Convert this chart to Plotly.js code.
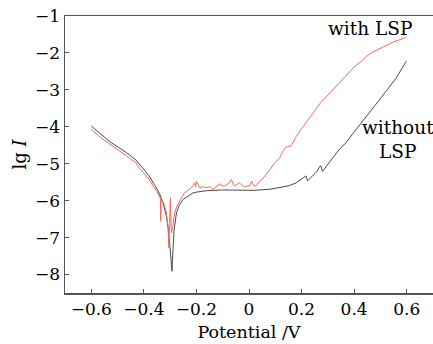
<!DOCTYPE html>
<html>
<head>
<meta charset="utf-8">
<script src="https://cdn.plot.ly/plotly-3.0.1.min.js"></script>
<style>html,body{margin:0;padding:0;background:#fff;}#chart{width:433px;height:344px;}</style>
</head>
<body>
<div id="chart"></div>
<script>
const withoutX = [-0.60,-0.56,-0.53,-0.50,-0.466,-0.43,-0.403,-0.38,-0.352,-0.34,-0.327,-0.314,-0.305,-0.298,-0.293,-0.289,-0.285,-0.276,-0.264,-0.251,-0.23,-0.213,-0.2,-0.162,-0.1,-0.036,0.02,0.08,0.116,0.15,0.179,0.192,0.205,0.217,0.223,0.24,0.26,0.268,0.274,0.279,0.295,0.318,0.345,0.369,0.4,0.432,0.46,0.495,0.53,0.559,0.597,0.6];
const withoutY = [-3.98,-4.21,-4.40,-4.54,-4.70,-4.90,-5.12,-5.33,-5.66,-5.82,-6.06,-6.42,-6.9,-7.4,-7.91,-7.3,-6.8,-6.33,-6.1,-5.97,-5.86,-5.79,-5.77,-5.73,-5.71,-5.71,-5.72,-5.69,-5.64,-5.6,-5.52,-5.45,-5.38,-5.33,-5.46,-5.35,-5.2,-5.08,-5.06,-5.21,-5.05,-4.85,-4.6,-4.43,-4.14,-3.86,-3.6,-3.28,-2.96,-2.69,-2.24,-2.22];
const withX = [-0.60,-0.565,-0.529,-0.50,-0.466,-0.44,-0.428,-0.425,-0.403,-0.38,-0.365,-0.35,-0.34,-0.337,-0.336,-0.334,-0.325,-0.315,-0.308,-0.305,-0.302,-0.299,-0.297,-0.295,-0.29,-0.283,-0.274,-0.264,-0.255,-0.245,-0.238,-0.225,-0.215,-0.207,-0.203,-0.2,-0.195,-0.188,-0.175,-0.162,-0.15,-0.137,-0.125,-0.112,-0.103,-0.093,-0.08,-0.067,-0.06,-0.055,-0.045,-0.036,-0.027,-0.017,-0.005,0.002,0.008,0.012,0.018,0.025,0.033,0.04,0.05,0.065,0.075,0.084,0.095,0.103,0.116,0.13,0.141,0.16,0.179,0.2,0.22,0.242,0.27,0.306,0.34,0.369,0.4,0.432,0.445,0.475,0.508,0.55,0.597];
const withY = [-4.07,-4.29,-4.47,-4.61,-4.79,-4.93,-4.98,-5.05,-5.24,-5.42,-5.61,-5.75,-5.90,-5.95,-6.56,-5.97,-6.05,-6.3,-6.7,-7.27,-6.6,-5.92,-6.5,-6.87,-6.7,-6.33,-6.15,-6.0,-5.9,-5.78,-5.75,-5.68,-5.62,-5.52,-5.62,-5.48,-5.55,-5.65,-5.62,-5.65,-5.62,-5.69,-5.62,-5.54,-5.6,-5.6,-5.55,-5.43,-5.55,-5.6,-5.56,-5.52,-5.58,-5.63,-5.6,-5.61,-5.5,-5.48,-5.6,-5.6,-5.55,-5.48,-5.42,-5.3,-5.2,-5.12,-5.0,-4.94,-4.85,-4.65,-4.55,-4.52,-4.27,-4.05,-3.87,-3.65,-3.37,-3.1,-2.83,-2.6,-2.38,-2.2,-2.1,-1.96,-1.84,-1.7,-1.58];
const xTicks = [-0.6,-0.4,-0.2,0,0.2,0.4,0.6];
const yTicks = [-8,-7,-6,-5,-4,-3,-2,-1];
const labelWith = "with LSP";
const labelWithout = "without<br>LSP";

const serif = "DejaVu Serif";
const traces = [
  {x: withoutX, y: withoutY, mode: "lines", line: {color: "#4a4a4a", width: 1}, name: "without LSP"},
  {x: withX, y: withY, mode: "lines", line: {color: "#ef6b5c", width: 1}, name: "with LSP"}
];
const layout = {
  width: 433, height: 344,
  margin: {l: 65, r: 0, t: 16, b: 51},
  paper_bgcolor: "#fff", plot_bgcolor: "#fff",
  showlegend: false,
  font: {family: serif, size: 17, color: "#000"},
  xaxis: {
    range: [-0.7, 0.7], tickvals: xTicks, ticks: "inside", ticklen: 4, tickcolor: "#555",
    showline: true, linecolor: "#555", linewidth: 1.5, mirror: true, showgrid: false, zeroline: false,
    tickfont: {family: serif, size: 17, color: "#000"},
    title: {text: "Potential /V", font: {family: serif, size: 17.5, color: "#000"}, standoff: 8}
  },
  yaxis: {
    range: [-8.5, -1], tickvals: yTicks, ticks: "inside", ticklen: 4, tickcolor: "#555",
    showline: true, linecolor: "#555", linewidth: 1.5, mirror: true, showgrid: false, zeroline: false,
    tickfont: {family: serif, size: 17, color: "#000"},
    title: {text: "lg <i>I</i>", font: {family: serif, size: 18, color: "#000"}, standoff: 3}
  },
  annotations: [
    {x: 0.46, y: -1.33, xref: "x", yref: "y", text: labelWith, showarrow: false, font: {family: serif, size: 18.5, color: "#000"}},
    {x: 0.565, y: -4.35, xref: "x", yref: "y", text: labelWithout, showarrow: false, font: {family: serif, size: 18.5, color: "#000"}}
  ]
};
Plotly.newPlot("chart", traces, layout, {displayModeBar: false, staticPlot: true});
</script>
</body>
</html>
